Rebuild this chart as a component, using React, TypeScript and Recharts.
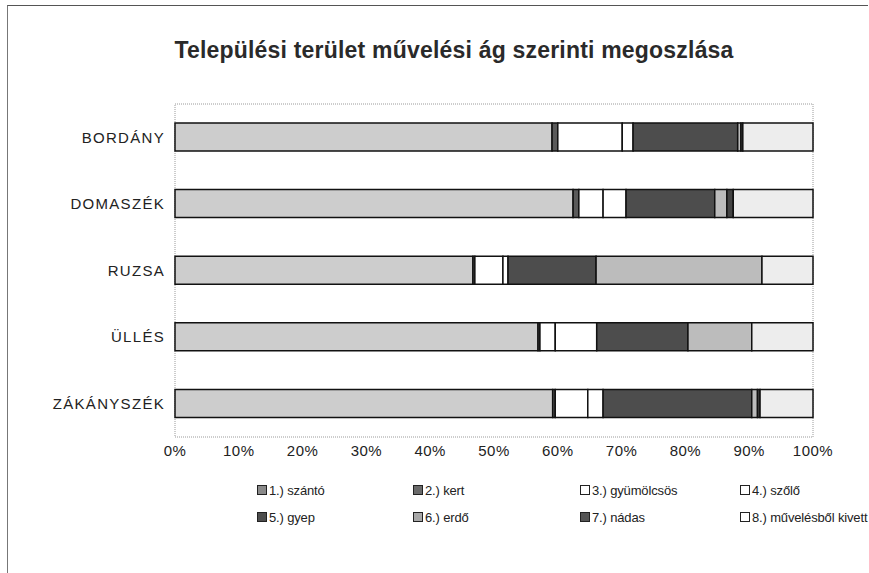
import React from 'react';
import { BarChart, Bar, XAxis, YAxis, ReferenceArea } from 'recharts';

const categories = ['BORDÁNY', 'DOMASZÉK', 'RUZSA', 'ÜLLÉS', 'ZÁKÁNYSZÉK'];

const szanto = [59.1, 62.4, 46.7, 56.9, 59.2];
const kert = [0.9, 0.9, 0.3, 0.3, 0.4];
const gyumolcsos = [10.1, 3.8, 4.4, 2.4, 5.1];
const szolo = [1.7, 3.6, 0.8, 6.5, 2.4];
const gyep = [16.4, 13.9, 13.8, 14.3, 23.3];
const erdo = [0.5, 1.9, 26.0, 10.0, 0.9];
const nadas = [0.3, 1.0, 0.0, 0.0, 0.4];
const kivett = [11.0, 12.5, 8.0, 9.6, 8.3];

const xTicks = [0, 10, 20, 30, 40, 50, 60, 70, 80, 90, 100];

const seriesNames = [
  '1.) szántó',
  '2.) kert',
  '3.) gyümölcsös',
  '4.) szőlő',
  '5.) gyep',
  '6.) erdő',
  '7.) nádas',
  '8.) művelésből kivett',
];
const seriesValues = [szanto, kert, gyumolcsos, szolo, gyep, erdo, nadas, kivett];
const seriesColors = ['#cdcdcd', '#5a5a5a', '#ffffff', '#ffffff', '#4d4d4d', '#bcbcbc', '#444444', '#ededed'];
const legendIconColors = ['#8a8a8a', '#6a6a6a', '#ffffff', '#ffffff', '#4d4d4d', '#a8a8a8', '#555555', '#ffffff'];

const keys = seriesNames.map((_, i) => `s${i}`);

const data = categories.map((c, ci) => {
  const row: Record<string, string | number> = { name: c };
  seriesValues.forEach((vals, si) => {
    row[keys[si]] = vals[ci];
  });
  return row;
});

const FONT = '"Liberation Sans", Arial, sans-serif';

export default function App() {
  return (
    <div
      style={{
        position: 'absolute',
        left: 0,
        top: 0,
        width: 869,
        height: 573,
        background: '#ffffff',
        fontFamily: FONT,
        overflow: 'hidden',
      }}
    >
      <div
        style={{
          position: 'absolute',
          left: 0,
          top: 5,
          width: 860,
          height: 568,
          borderTop: '1px solid #555',
          borderLeft: '1px solid #777',
          marginLeft: 7,
        }}
      />
      <div
        style={{
          position: 'absolute',
          left: 0,
          top: 37,
          width: 908,
          textAlign: 'center',
          fontSize: 23,
          fontWeight: 'bold',
          letterSpacing: 0.2,
          color: '#2a2a2a',
        }}
      >
        Települési terület művelési ág szerinti megoszlása
      </div>
      <div style={{ position: 'absolute', left: 0, top: 0 }}>
        <BarChart
          width={869}
          height={480}
          data={data}
          layout="vertical"
          margin={{ top: 104, right: 56, bottom: 13, left: 0 }}
          barSize={28}
        >
          <XAxis
            type="number"
            domain={[0, 100]}
            ticks={xTicks}
            tickFormatter={(v: number) => `${v}%`}
            axisLine={false}
            tickLine={false}
            tickSize={0}
            tickMargin={8}
            height={30}
            interval={0}
            tick={{ fill: '#222', fontSize: 15, fontFamily: FONT, letterSpacing: 0.5 }}
          />
          <YAxis
            type="category"
            dataKey="name"
            width={175}
            axisLine={false}
            tickLine={false}
            tickSize={0}
            tickMargin={10}
            tick={{ fill: '#222', fontSize: 15, fontFamily: FONT, letterSpacing: 1.3 }}
          />
          <ReferenceArea
            x1={0}
            x2={100}
            fill="none"
            fillOpacity={0}
            stroke="#9a9a9a"
            strokeWidth={1}
            strokeDasharray="1 1"
            ifOverflow="visible"
          />
          {keys.map((k, i) => (
            <Bar
              key={k}
              dataKey={k}
              name={seriesNames[i]}
              stackId="a"
              fill={seriesColors[i]}
              stroke="#111"
              strokeWidth={1.5}
              isAnimationActive={false}
            />
          ))}
        </BarChart>
      </div>
      <div
        style={{
          position: 'absolute',
          left: 257,
          top: 481,
          width: 612,
          display: 'grid',
          gridTemplateColumns: '156px 167px 160px 129px',
          rowGap: 9,
          fontSize: 13,
          color: '#222',
          letterSpacing: -0.15,
        }}
      >
        {seriesNames.map((n, i) => (
          <div key={n} style={{ display: 'flex', alignItems: 'center', height: 18, whiteSpace: 'nowrap' }}>
            <span
              style={{
                display: 'inline-block',
                width: 8,
                height: 8,
                border: '1.5px solid #222',
                background: legendIconColors[i],
                marginRight: 2,
                flexShrink: 0,
              }}
            />
            {n}
          </div>
        ))}
      </div>
    </div>
  );
}
